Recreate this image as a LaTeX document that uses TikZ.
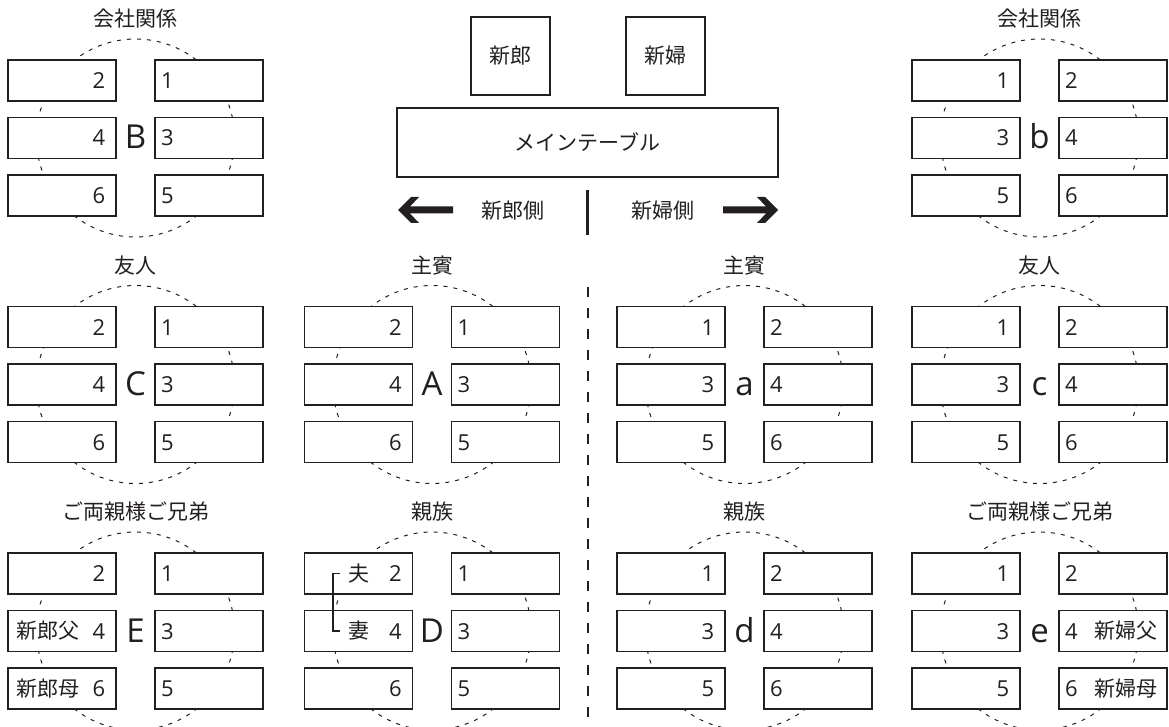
\documentclass[tikz,border=0pt]{standalone}
\usepackage{fontspec}
\newfontfamily\jpfont{Noto Sans CJK JP}
\newfontfamily\latfont{Open Sans}
\definecolor{ink}{HTML}{231F20}
\tikzset{
  seat/.style={draw=ink, fill=white, line width=1.2pt, rectangle, minimum width=108pt, minimum height=41pt, inner sep=0pt},
  ring/.style={draw=ink, circle, line width=1pt, dash pattern=on 4pt off 6pt, minimum size=198pt, inner sep=0pt},
  jp/.style={text=ink, font=\jpfont\fontsize{21}{25}\selectfont, inner sep=0pt},
  num/.style={text=ink, font=\latfont\fontsize{22}{26}\selectfont, inner sep=0pt},
  big/.style={text=ink, font=\latfont\fontsize{33}{38}\selectfont, inner sep=0pt},
  box/.style={draw=ink, fill=white, line width=1.2pt, rectangle, inner sep=0pt},
  bracket/.style={draw=ink, line width=1.2pt},
  divider/.style={draw=ink, line width=1.2pt, dash pattern=on 10pt off 11pt},
}
% #1 name, #2 cx, #3 cy, #4 title, #5 letter, #6 first number on the left
\newcommand\tgroup[6]{%
  \node[ring] (#1-ring) at (#2,#3) {};
  \foreach \r/\dy in {1/-57.5,2/0,3/57.5} {
    \pgfmathtruncatemacro\lnum{#6+2*(\r-1)}
    \pgfmathtruncatemacro\rnum{3-#6+2*(\r-1)}
    \node[seat] (#1-l\r) at ({#2-73.5},{#3+(\dy)}) {};
    \node[seat] (#1-r\r) at ({#2+73.5},{#3+(\dy)}) {};
    \node[num, anchor=base east] (#1-ln\r) at ({#2-30},{#3+(\dy)+8}) {\lnum};
    \node[num, anchor=base west] (#1-rn\r) at ({#2+25.5},{#3+(\dy)+8}) {\rnum};
  }
  \node[big, anchor=base] (#1-letter) at (#2,{#3+11}) {#5};
  \node[jp] (#1-title) at (#2,{#3-119}) {#4};
}
\begin{document}
\begin{tikzpicture}[x=1pt, y=-1pt]
\fill[white] (0,0) rectangle (1169,727);
\useasboundingbox (0,0) rectangle (1169,727);

% head table
\node[box, jp, minimum width=79pt, minimum height=78pt] (groom) at (510.5,56) {新郎};
\node[box, jp, minimum width=79pt, minimum height=78pt] (bride) at (665.5,56) {新婦};
\node[box, jp, minimum width=381pt, minimum height=69pt] (maintable) at (587.5,142.5) {メインテーブル};

\node[jp] (gside) at (513,211) {新郎側};
\node[jp] (bside) at (663,211) {新婦側};
\coordinate (bartop) at (587.5,190);
\coordinate (barbot) at (587.5,235);
\draw[ink, line width=2.5pt] (bartop) -- (barbot);

\coordinate (ltip) at (398,210);
\fill[ink] (ltip) -- ++(13,-13) -- ++(8,0) -- ++(-9,9.5) -- ++(43,0) -- ++(0,7)
  -- ++(-43,0) -- ++(9,9.5) -- ++(-8,0) -- cycle;
\coordinate (rtip) at (778,210);
\fill[ink] (rtip) -- ++(-13,-13) -- ++(-8,0) -- ++(9,9.5) -- ++(-43,0) -- ++(0,7)
  -- ++(43,0) -- ++(-9,9.5) -- ++(8,0) -- cycle;

% centre divider
\coordinate (divtop) at (588,287);
\coordinate (divbot) at (588,727);
\draw[divider] (divtop) -- (divbot);

% table groups
\tgroup{B}{135.5}{138}{会社関係}{B}{2}
\tgroup{b}{1039.5}{138}{会社関係}{b}{1}
\tgroup{C}{135.5}{384.5}{友人}{C}{2}
\tgroup{A}{432}{384.5}{主賓}{A}{2}
\tgroup{a}{744.5}{384.5}{主賓}{a}{1}
\tgroup{c}{1039.5}{384.5}{友人}{c}{1}
\tgroup{E}{135.5}{631}{ご両親様ご兄弟}{E}{2}
\tgroup{D}{432}{631}{親族}{D}{2}
\tgroup{d}{744.5}{631}{親族}{d}{1}
\tgroup{e}{1039.5}{631}{ご両親様ご兄弟}{e}{1}

% extra names
\node[jp, anchor=west] (E-fa) at (16,631) {新郎父};
\node[jp, anchor=west] (E-mo) at (16,688.5) {新郎母};
\node[jp, anchor=east] (e-fa) at (1158,631) {新婦父};
\node[jp, anchor=east] (e-mo) at (1158,688.5) {新婦母};
\node[jp, anchor=west] (D-hu) at (348,573.5) {夫};
\node[jp, anchor=west] (D-tsu) at (348,631) {妻};
\draw[bracket] ([xshift=-8pt]D-hu.west) -- ([xshift=-15pt]D-hu.west)
  -- ([xshift=-15pt]D-tsu.west) -- ([xshift=-8pt]D-tsu.west);
\end{tikzpicture}
\end{document}
